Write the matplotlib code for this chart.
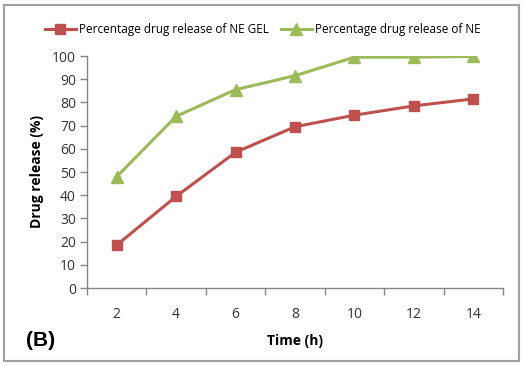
import numpy as np
import matplotlib.pyplot as plt
from matplotlib.patches import Rectangle

# ============================================
# DATA
# ============================================
time_h = ["2", "4", "6", "8", "10", "12", "14"]
ne_gel = [18.5, 39.5, 58.5, 69.5, 74.5, 78.5, 81.5]
ne = [48.0, 74.0, 85.5, 91.5, 99.5, 99.5, 99.8]
y_ticks = [0, 10, 20, 30, 40, 50, 60, 70, 80, 90, 100]

RED = "#C0504D"
GREEN = "#9BBB59"
AXIS = "#868686"

plt.rcParams["font.family"] = ["Open Sans", "DejaVu Sans"]

fig = plt.figure(figsize=(5.24, 3.67), dpi=100)
W, H = 524, 367
ax = fig.add_axes([87 / W, 1 - 288 / H, (503 - 87) / W, (288 - 56) / H])

x = np.arange(len(time_h))
ax.plot(x, ne_gel, color=RED, lw=2.2, marker="s", ms=7, mfc=RED, mec=RED,
        label="Percentage drug release of NE GEL")
ax.plot(x, ne, color=GREEN, lw=2.2, marker="^", ms=8, mfc=GREEN, mec=GREEN,
        label="Percentage drug release of NE")

ax.set_xlim(-0.5, len(time_h) - 0.5)
ax.set_ylim(0, 100)
ax.set_yticks(y_ticks)
ax.set_xticks(x)
ax.set_xticklabels(time_h)
ax.set_xticks(np.arange(-0.5, len(time_h)), minor=True)
ax.tick_params(axis="x", which="major", length=0, pad=14, labelsize=10, colors="#333333")
ax.tick_params(axis="x", which="minor", length=5, color=AXIS, width=1)
ax.tick_params(axis="y", length=5, color=AXIS, width=1, pad=3, labelsize=10,
               labelcolor="#333333")

for s in ["top", "right"]:
    ax.spines[s].set_visible(False)
for s in ["left", "bottom"]:
    ax.spines[s].set_color(AXIS)
    ax.spines[s].set_linewidth(1)

ax.set_xlabel("Time (h)", fontsize=10, fontweight="bold", labelpad=8)
ax.set_ylabel("Drug release (%)", fontsize=10, fontweight="bold", labelpad=6)

ax.legend(loc="lower center", bbox_to_anchor=(0.423, 1.04), ncol=2, frameon=False,
          fontsize=8.5, handlelength=2.6, columnspacing=1.0, handletextpad=0.3)

fig.text(26 / W, 1 - 340 / H, "(B)", fontsize=15, fontweight="bold",
         family=["Liberation Sans", "DejaVu Sans"], va="center", ha="left")

fig.patches.append(Rectangle((4 / W, 1 - 361 / H), (519 - 4) / W, (361 - 5) / H,
                             transform=fig.transFigure, fill=False,
                             edgecolor="#A0A0A0", lw=1.5))

fig.savefig("out.png", dpi=100)
